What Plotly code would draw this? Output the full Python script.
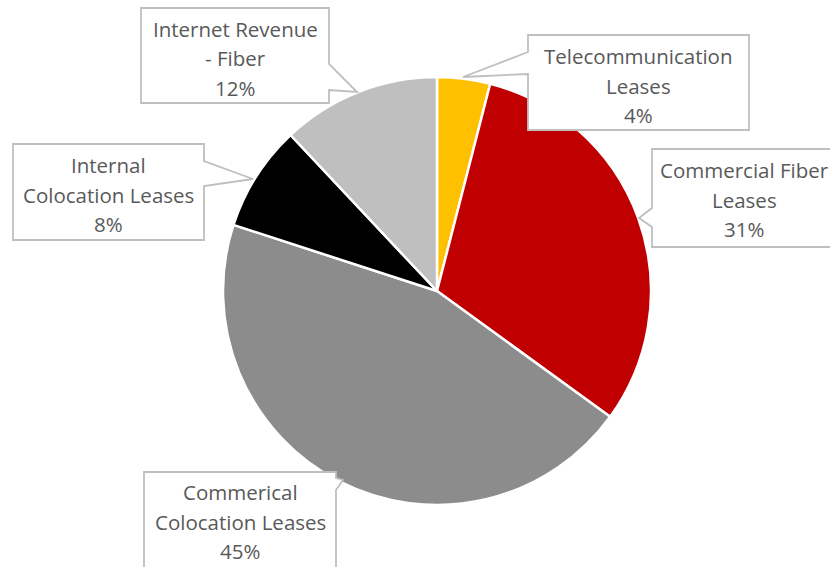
import plotly.graph_objects as go

# Revenue mix by source (percent of total)
categories = [
    "Telecommunication<br>Leases",
    "Commercial Fiber<br>Leases",
    "Commerical<br>Colocation Leases",
    "Internal<br>Colocation Leases",
    "Internet Revenue<br>- Fiber",
]
values = [4, 31, 45, 8, 12]
colors = ["#FFC000", "#C00000", "#8C8C8C", "#000000", "#BFBFBF"]

W, H = 830, 567


def px(x, y):
    """Pixel position -> paper coordinates."""
    return x / W, 1 - y / H


# Callout boxes (pixel geometry): box bounds, pointer base on a side, tip point,
# text centre x and the first line's centre y.
callouts = [
    dict(box=(528, 35, 749, 130), side="left", base=(52, 74), tip=(463, 77), tx=638, ty=56),
    dict(box=(652, 149, 840, 247), side="left", base=(208, 227), tip=(639, 218), tx=744, ty=170),
    dict(box=(144, 472, 336, 575), side="right", base=(478, 490), tip=(343, 480), tx=240, ty=492),
    dict(box=(13, 144, 204, 240), side="right", base=(161, 186), tip=(253, 179), tx=108, ty=165),
    dict(box=(141, 8, 329, 103), side="right", base=(64, 90), tip=(357, 92), tx=235, ty=29),
]
LINE_STEP = 29.5

fig = go.Figure(
    go.Pie(
        labels=[c.replace("<br>", " ") for c in categories],
        values=values,
        sort=False,
        direction="clockwise",
        rotation=0,
        marker=dict(colors=colors, line=dict(color="white", width=2.5)),
        textinfo="none",
        hoverinfo="label+percent",
        domain=dict(x=[223 / W, 651 / W], y=[1 - 505 / H, 1 - 77 / H]),
        showlegend=False,
    )
)

total = sum(values)
shapes = []
annotations = []
for cat, val, c in zip(categories, values, callouts):
    x0, y0, x1, y1 = c["box"]
    b0, b1 = c["base"]
    tx, ty = c["tip"]
    if c["side"] == "right":
        pts = [(x0, y0), (x1, y0), (x1, b0), (tx, ty), (x1, b1), (x1, y1), (x0, y1)]
    else:
        pts = [(x0, y0), (x1, y0), (x1, y1), (x0, y1), (x0, b1), (tx, ty), (x0, b0)]
    path = "M " + " L ".join("{:.5f},{:.5f}".format(*px(x, y)) for x, y in pts) + " Z"
    shapes.append(dict(
        type="path", path=path, xref="paper", yref="paper",
        fillcolor="white", line=dict(color="#BFBFBF", width=1.8), layer="above",
    ))
    lines = cat.split("<br>") + ["{:d}%".format(round(val / total * 100))]
    for i, line in enumerate(lines):
        ax, ay = px(c["tx"], c["ty"] + i * LINE_STEP)
        annotations.append(dict(
            x=ax, y=ay, xref="paper", yref="paper", text=line, showarrow=False,
            xanchor="center", yanchor="middle",
            font=dict(family="Open Sans", size=20.5, color="#595959"),
        ))

fig.update_layout(
    width=W, height=H,
    margin=dict(l=0, r=0, t=0, b=0),
    paper_bgcolor="white", plot_bgcolor="white",
    shapes=shapes, annotations=annotations,
)

fig.write_html("out.html")
